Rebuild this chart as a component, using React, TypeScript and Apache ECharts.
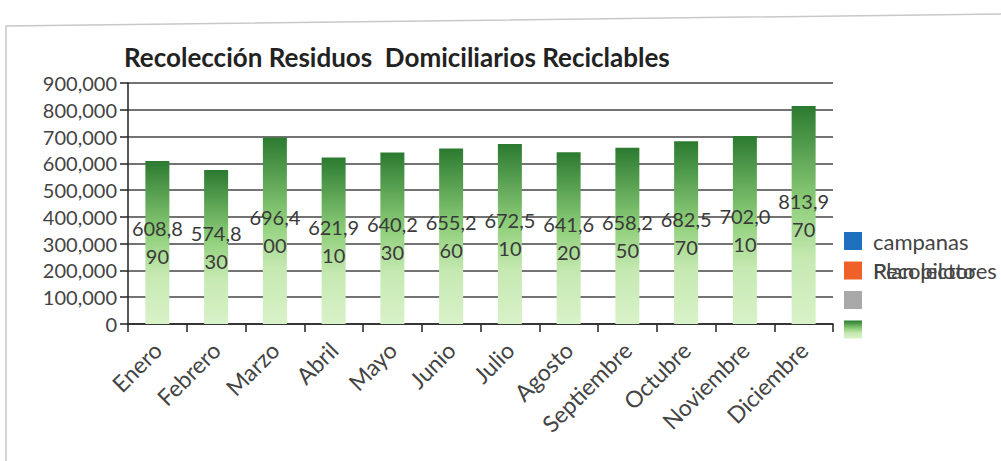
import React, { useEffect, useRef } from "react";
import * as echarts from "echarts";

const TITLE = "Recolección Residuos  Domiciliarios Reciclables";
const MONTHS = ["Enero", "Febrero", "Marzo", "Abril", "Mayo", "Junio", "Julio", "Agosto", "Septiembre", "Octubre", "Noviembre", "Diciembre"];
const VALUES = [608890, 574830, 696400, 621910, 640230, 655260, 672510, 641620, 658250, 682570, 702010, 813970];
const LEGEND_NAMES = ["campanas", "Plan piloto", "Recolectores", "Reciclables"];
const LEGEND_OVERLAP_TEXT = "Recolectores";
const Y_MIN = 0;
const Y_MAX = 900000;
const Y_STEP = 100000;

const FONT = "Lato, 'Open Sans', sans-serif";

export default function App() {
  const ref = useRef<HTMLDivElement>(null);
  useEffect(() => {
    document.body.style.margin = "0";
    const chart = echarts.init(ref.current!, null, { renderer: "svg" });
    const gradient = new echarts.graphic.LinearGradient(0, 0, 0, 1, [
      { offset: 0, color: "#2b7a30" },
      { offset: 0.45, color: "#8fcf7a" },
      { offset: 0.7, color: "#c6e9b2" },
      { offset: 1, color: "#d8f2c8" },
    ]);
    const fmt = (v: number) => v.toLocaleString("en-US");
    chart.setOption({
      animation: false,
      backgroundColor: "#ffffff",
      textStyle: { fontFamily: FONT },
      title: {
        text: TITLE,
        left: 119,
        top: 39,
        textStyle: { fontFamily: FONT, fontSize: 26, fontWeight: "bold", color: "#222" },
      },
      legend: {
        orient: "vertical",
        left: 844,
        top: 230,
        padding: 0,
        itemWidth: 18,
        itemHeight: 18,
        itemGap: 7.5,
        icon: "rect",
        data: LEGEND_NAMES,
        formatter: (name: string) => (name === LEGEND_NAMES[0] || name === LEGEND_NAMES[1] ? name : " "),
        textStyle: { fontFamily: FONT, fontSize: 22, color: "#444", padding: [0, 0, 0, 6] },
        selectedMode: false,
      },
      grid: { left: 128, right: 168, top: 83, bottom: 137 },
      xAxis: {
        type: "category",
        data: MONTHS,
        boundaryGap: true,
        axisLine: { lineStyle: { color: "#222", width: 1.5 } },
        axisTick: { show: true, length: 8, lineStyle: { color: "#222", width: 1.5 } },
        axisLabel: { rotate: 45, fontSize: 23, color: "#444", fontFamily: FONT, interval: 0, margin: 22 },
      },
      yAxis: {
        type: "value",
        min: Y_MIN,
        max: Y_MAX,
        interval: Y_STEP,
        axisLine: { show: true, lineStyle: { color: "#222", width: 1.5 } },
        axisTick: { show: true, length: 8, lineStyle: { color: "#222", width: 1.5 } },
        axisLabel: { fontSize: 20, color: "#444", fontFamily: FONT, margin: 11, formatter: (v: number) => fmt(v) },
        splitLine: { lineStyle: { color: "#444", width: 1.5 } },
      },
      series: [
        { name: LEGEND_NAMES[0], type: "bar", stack: "s", data: [], itemStyle: { color: "#1f6fbf" } },
        { name: LEGEND_NAMES[1], type: "bar", stack: "s", data: [], itemStyle: { color: "#f0612a" } },
        { name: LEGEND_NAMES[2], type: "bar", stack: "s", data: [], itemStyle: { color: "#a8a8a8" } },
        {
          name: LEGEND_NAMES[3],
          type: "bar",
          stack: "s",
          data: VALUES,
          barWidth: 24,
          itemStyle: { color: gradient },
          label: {
            show: true,
            position: "inside",
            fontSize: 20,
            lineHeight: 28,
            color: "#3a3a3a",
            fontFamily: FONT,
            formatter: (p: any) => {
              const s = fmt(p.value);
              return s.slice(0, 5) + "\n" + s.slice(5);
            },
          },
        },
      ],
      graphic: [
        {
          type: "polyline",
          shape: { points: [[6, 461], [6, 26], [1001, 14]] },
          style: { stroke: "#c8c8c8", lineWidth: 1.5, fill: null },
          silent: true,
        },
        {
          type: "text",
          x: 873,
          y: 270.5,
          style: { text: LEGEND_OVERLAP_TEXT, fontFamily: FONT, fontSize: 22, fill: "#444", verticalAlign: "middle", align: "left" },
        },
      ],
    });
    return () => chart.dispose();
  }, []);
  return <div ref={ref} style={{ width: 1001, height: 461 }} />;
}
